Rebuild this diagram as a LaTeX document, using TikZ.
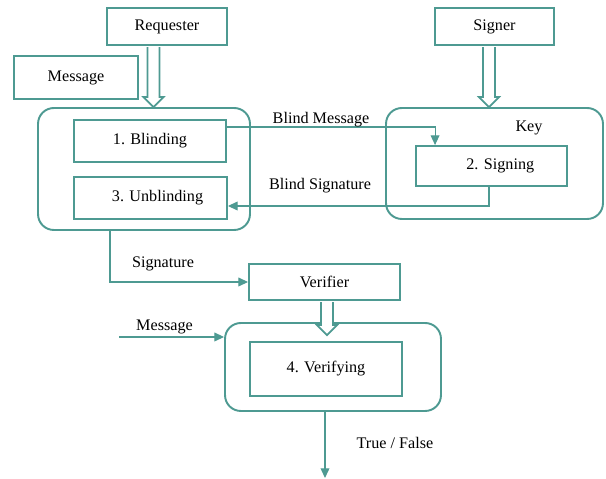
\documentclass[tikz,border=0pt]{standalone}
\usepackage{fontspec}
\setmainfont{Liberation Serif}
\usetikzlibrary{calc, arrows.meta, positioning}
\definecolor{sigteal}{RGB}{78,154,146}
\tikzstyle{entity}=[rectangle, draw=sigteal, line width=1.1pt,
  inner sep=0pt, minimum width=2.4cm, minimum height=0.74cm]
\tikzstyle{stage}=[rectangle, draw=sigteal, line width=1.1pt,
  inner sep=0pt, minimum width=3.04cm, minimum height=0.84cm]
\tikzstyle{party}=[rectangle, rounded corners=9pt, draw=sigteal, line width=1.1pt,
  inner sep=0pt]
\tikzstyle{flow}=[-{Triangle[length=5.5pt, width=5pt]}, line width=0.6pt, color=sigteal]
\tikzstyle{flowtext}=[inner sep=1pt]
% open block arrow going straight down from start to target
\tikzstyle{hollow}=[draw=sigteal, line width=1pt, fill=white, to path={
  let \p1=(\tikztostart), \p2=(\tikztotarget) in
  (\x1-3.4pt,\y1-0.6pt) -- (\x1-3.4pt,\y2+5.7pt) -- (\x1-5.7pt,\y2+5.7pt)
  -- (\x1,\y2) -- (\x1+5.7pt,\y2+5.7pt) -- (\x1+3.4pt,\y2+5.7pt)
  -- (\x1+3.4pt,\y1-0.6pt)}]

\begin{document}
\begin{tikzpicture}[x=0.02cm, y=-0.02cm, font=\fontsize{9.2}{11}\selectfont]
  \useasboundingbox (0,0) rectangle (606,479);

  % requester side
  \node[entity] (req) at (167,26.5) {\raisebox{-1pt}{Requester}};
  \node[entity, minimum width=2.48cm, minimum height=0.86cm] (msgA) at (76,77.5) {Message};
  \node[party, minimum width=4.24cm, minimum height=2.44cm] (grpA) at (144,169) {};
  \node[stage] (blind) at (150,141) {1. Blinding};
  \node[stage, minimum width=3.06cm] (unblind) at (150.5,198) {\hspace{8pt}3. Unblinding};

  % signer side
  \node[entity, minimum width=2.38cm] (signer) at (494.5,26.5) {\raisebox{-1pt}{Signer}};
  \node[party, minimum width=4.34cm, minimum height=2.22cm] (grpB) at (494.5,163.5) {};
  \node (key) at (529,128) {Key};
  \node[stage, minimum width=3.02cm, minimum height=0.8cm] (sign) at (491.5,166) {\hspace{10pt}2. Signing};

  % verifier side
  \node[entity, minimum width=3.02cm, minimum height=0.72cm] (verifier) at (324.5,282) {Verifier};
  \node[party, minimum width=4.32cm, minimum height=1.76cm] (grpC) at (333,367) {};
  \node[stage, minimum height=1.08cm] (verify) at (326,369) {4. Verifying};
  \coordinate (msgIn) at (119,337);
  \coordinate (result) at (325,478);

  % block arrows into the three parties
  \coordinate (reqOut) at ($(req.south)+(-13.5,0)$);
  \coordinate (reqIn) at (reqOut |- grpA.north);
  \coordinate (signerOut) at ($(signer.south)+(-5.5,0)$);
  \coordinate (signerIn) at (signerOut |- grpB.north);
  \coordinate (verOut) at ($(verifier.south)+(2.5,0)$);
  \coordinate (verIn) at ($(verOut |- grpC.north)+(0,13)$);
  \draw[hollow] (reqOut) to (reqIn);
  \draw[hollow] (signerOut) to (signerIn);
  \draw[hollow] (verOut) to (verIn);

  \draw[flow] ($(blind.east)+(0,-14)$) -| ($(sign.north west)+(20,0)$);
  \draw[flow] ($(sign.south)+(-2.5,0)$) |- ($(unblind.east)+(0,8)$);
  \draw[flow] ($(grpA.south)+(-34,0)$) |- (verifier.west);
  \draw[flow] (msgIn) -- (msgIn -| grpC.west);
  \draw[flow] ($(grpC.south)+(-8,0)$) -- (result);

  \node[flowtext] at (321,120) {Blind Message};
  \node[flowtext] at (320,186) {Blind Signature};
  \node[flowtext] at (163,264) {Signature};
  \node[flowtext] at (164.5,327) {Message};
  \node[flowtext] at (395,443) {True / False};
\end{tikzpicture}
\end{document}
